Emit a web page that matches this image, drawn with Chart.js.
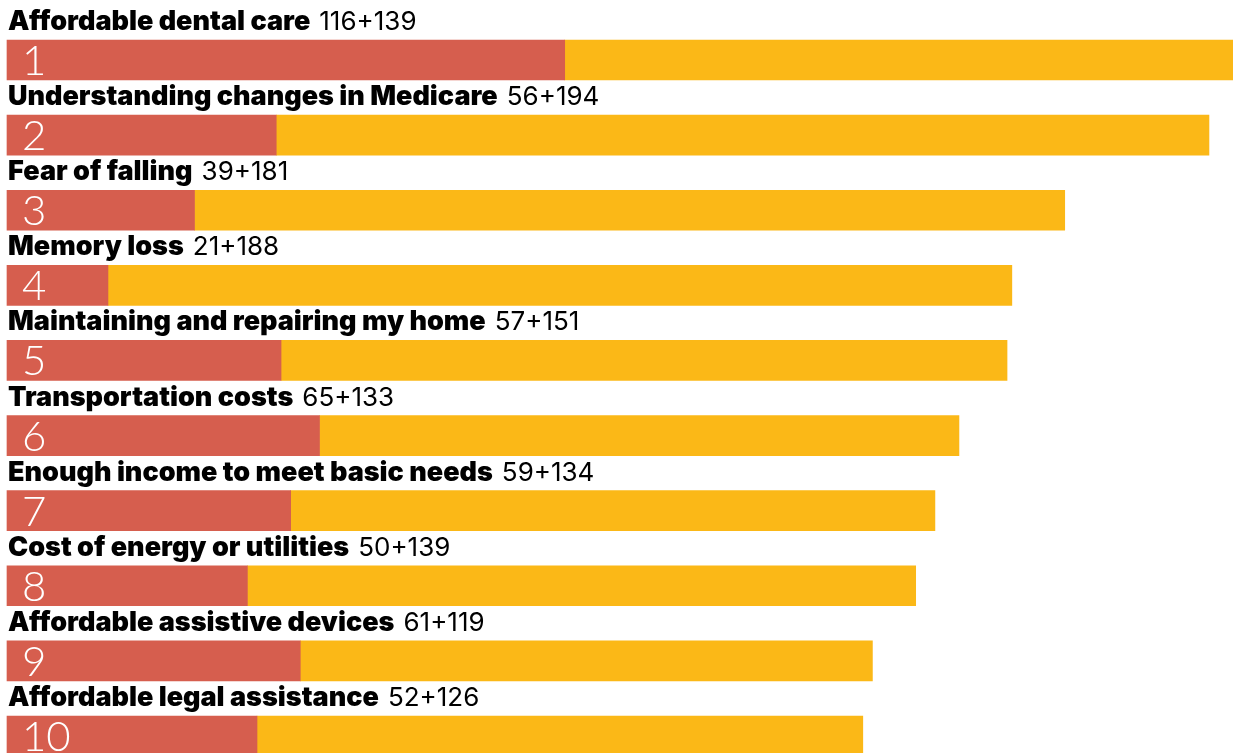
<!DOCTYPE html>
<html>
<head>
<meta charset="utf-8">
<script src="https://cdn.jsdelivr.net/npm/chart.js@4.4.1/dist/chart.umd.min.js"></script>
<style>
  html, body { margin: 0; padding: 0; background: #ffffff; overflow: hidden; }
  #wrap { width: 1233px; height: 753px; position: relative; }
</style>
</head>
<body>
<div id="wrap"><canvas id="chart"></canvas></div>
<script>
// Top concerns: first value (red) and additional value (yellow) per concern
const categories = [
  "Affordable dental care",
  "Understanding changes in Medicare",
  "Fear of falling",
  "Memory loss",
  "Maintaining and repairing my home",
  "Transportation costs",
  "Enough income to meet basic needs",
  "Cost of energy or utilities",
  "Affordable assistive devices",
  "Affordable legal assistance"
];
const firstValues = [116, 56, 39, 21, 57, 65, 59, 50, 61, 52];
const secondValues = [139, 194, 181, 188, 151, 133, 134, 139, 119, 126];
const ranks = ["1", "2", "3", "4", "5", "6", "7", "8", "9", "10"];

const RED = "#D65E4E";
const YELLOW = "#FBB817";

// Draws the bold title + "a+b" above each bar and the rank number inside it
const rowLabels = {
  id: "rowLabels",
  afterDatasetsDraw(chart) {
    const ctx = chart.ctx;
    const meta = chart.getDatasetMeta(0);
    ctx.save();
    meta.data.forEach((el, i) => {
      const top = el.y - el.height / 2;
      const bottom = el.y + el.height / 2;
      const left = chart.scales.x.getPixelForValue(0);
      // title
      ctx.textBaseline = "alphabetic";
      ctx.textAlign = "left";
      ctx.fillStyle = "#000000";
      ctx.font = "900 27px Inter";
      const title = categories[i];
      ctx.fillText(title, left + 1, top - 10);
      const w = ctx.measureText(title).width + 9;
      ctx.font = "400 26px Inter";
      ctx.fillText(firstValues[i] + "+" + secondValues[i], left + 1 + w, top - 10);
      // rank number
      ctx.fillStyle = "#ffffff";
      ctx.font = "300 42px Lato";
      ctx.fillText(ranks[i], left + 15, bottom - 5);
    });
    ctx.restore();
  }
};

new Chart(document.getElementById("chart"), {
  type: "bar",
  data: {
    labels: categories,
    datasets: [
      { data: firstValues, backgroundColor: RED, barThickness: 40, clip: false },
      { data: secondValues, backgroundColor: YELLOW, barThickness: 40, clip: false }
    ]
  },
  options: {
    indexAxis: "y",
    responsive: true,
    maintainAspectRatio: false,
    animation: false,
    layout: { padding: { left: 7, right: 0, top: 60, bottom: 17 } },
    plugins: { legend: { display: false }, tooltip: { enabled: false } },
    scales: {
      x: { stacked: true, min: 0, max: 255, display: false },
      y: { stacked: true, display: false, offset: false }
    }
  },
  plugins: [rowLabels]
});
</script>
</body>
</html>
